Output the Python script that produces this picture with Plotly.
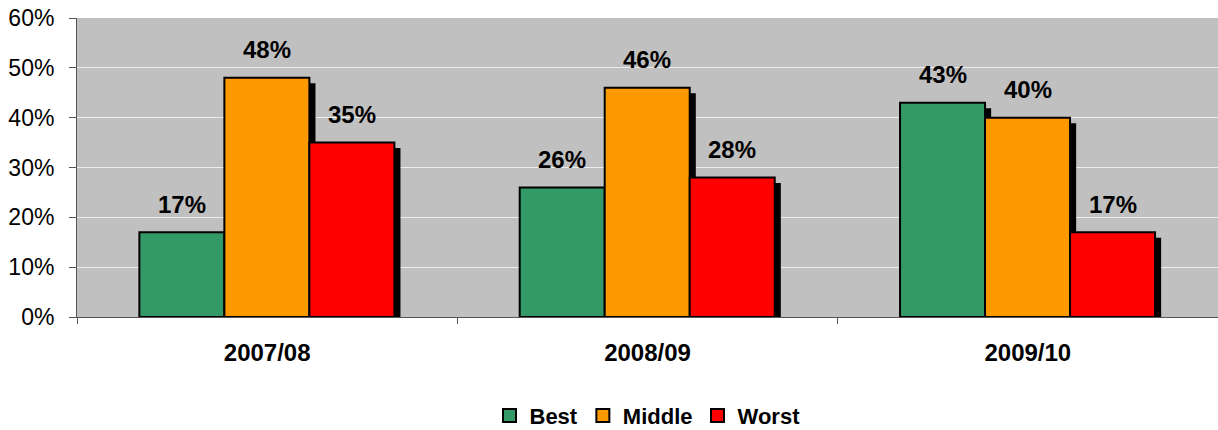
import plotly.graph_objects as go

categories = ["2007/08", "2008/09", "2009/10"]
best = [17, 26, 43]
middle = [48, 46, 40]
worst = [35, 28, 17]

series = [
    ("Best", best, "#339966"),
    ("Middle", middle, "#FF9900"),
    ("Worst", worst, "#FF0000"),
]

FONT = "Liberation Sans, Arial, sans-serif"
bar_w = 0.2235
offsets = [-0.336, -0.1125, 0.111]
sh_dx = 0.016
sh_dy = 1.1

fig = go.Figure()

# shadows first (behind all bars)
for (name, vals, col), off in zip(series, offsets):
    fig.add_trace(go.Bar(
        x=categories, y=[v - sh_dy for v in vals],
        width=bar_w, offset=off + sh_dx,
        marker=dict(color="black", line=dict(width=0)),
        showlegend=False, hoverinfo="skip",
    ))

for (name, vals, col), off in zip(series, offsets):
    fig.add_trace(go.Bar(
        x=categories, y=vals, name=name,
        width=bar_w, offset=off,
        marker=dict(color=col, line=dict(color="black", width=2)),
        showlegend=False,
    ))

# legend entries with larger square swatches
for name, vals, col in series:
    fig.add_trace(go.Scatter(
        x=[None], y=[None], mode="markers", name=name,
        marker=dict(symbol="square", size=13, color=col,
                    line=dict(color="black", width=2)),
        showlegend=True,
    ))

annotations = []
for (name, vals, col), off in zip(series, offsets):
    for i, v in enumerate(vals):
        annotations.append(dict(
            x=i + off + bar_w / 2, y=v, xref="x", yref="y",
            text=f"<b>{v}%</b>", showarrow=False,
            yanchor="middle", yshift=28,
            font=dict(family=FONT, size=24, color="black"),
        ))

fig.update_layout(
    width=1218, height=430,
    margin=dict(l=77, r=0, t=18, b=113, autoexpand=False),
    barmode="overlay",
    paper_bgcolor="white",
    plot_bgcolor="#C0C0C0",
    font=dict(family=FONT, color="black"),
    annotations=annotations,
    showlegend=True,
    legend=dict(
        orientation="h", x=0.5, xanchor="center", y=-0.33, yanchor="middle",
        font=dict(family=FONT, size=22, color="black", weight="bold"),
        itemwidth=30, traceorder="normal", itemsizing="trace",
    ),
    xaxis=dict(
        type="category", range=[-0.5, 2.5], automargin=False,
        tickson="boundaries", ticks="outside", ticklen=6, tickcolor="#555555",
        showline=True, linecolor="#555555", linewidth=1,
        showgrid=False,
        tickfont=dict(family=FONT, size=24, color="black", weight="bold"),
        ticklabelstandoff=14,
    ),
    yaxis=dict(
        range=[0, 60], dtick=10, ticksuffix="%", automargin=False,
        ticks="outside", ticklen=7, tickcolor="#555555",
        showline=True, linecolor="#555555", linewidth=1,
        showgrid=True, gridcolor="#EEEEEE", gridwidth=1,
        zeroline=False,
        tickfont=dict(family=FONT, size=23, color="black"),
        ticklabelstandoff=10,
    ),
)

fig.write_html("out.html")
